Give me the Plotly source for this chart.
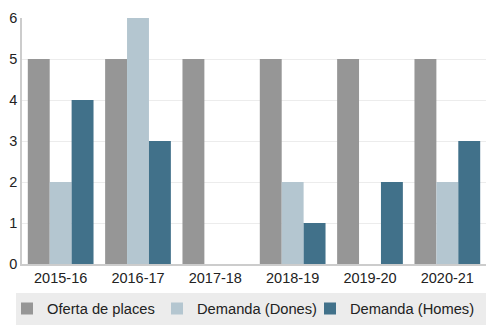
import plotly.graph_objects as go

categories = ["2015-16", "2016-17", "2017-18", "2018-19", "2019-20", "2020-21"]
oferta = [5, 5, 5, 5, 5, 5]
dones = [2, 6, 0, 2, 0, 2]
homes = [4, 3, 0, 1, 2, 3]

series = [
    ("Oferta de places", oferta, "#969696"),
    ("Demanda (Dones)", dones, "#b4c6d0"),
    ("Demanda (Homes)", homes, "#41718a"),
]

W, H = 494, 335
ml, mr, mt, mb = 22, 8, 18, 71
pw, ph = W - ml - mr, H - mt - mb

legend_ids = ["legend", "legend2", "legend3"]
legend_px = [7, 157, 310]

fig = go.Figure()
for (name, vals, color), lid in zip(series, legend_ids):
    fig.add_trace(go.Bar(x=categories, y=vals, name=name, marker_color=color,
                         marker_line_width=0, legend=lid))

fig.add_shape(type="rect", xref="paper", yref="paper",
              x0=(16 - ml) / pw, x1=1.0,
              y0=(H - mb - 325) / ph, y1=(H - mb - 293) / ph,
              fillcolor="#ececec", line_width=0, layer="below")

leg_y = (H - mb - 309) / ph
legends = {}
for lid, px in zip(legend_ids, legend_px):
    legends[lid] = dict(orientation="h", x=(px - ml) / pw, xanchor="left",
                        y=leg_y, yanchor="middle", bgcolor="rgba(0,0,0,0)",
                        font=dict(size=14.7), itemwidth=30)

fig.update_layout(
    width=W, height=H,
    margin=dict(l=ml, r=mr, t=mt, b=mb, autoexpand=False),
    barmode="group", bargap=0.15, bargroupgap=0,
    plot_bgcolor="white", paper_bgcolor="white",
    font=dict(family="Liberation Sans, Arial, sans-serif", size=14.5, color="#222222"),
    showlegend=True,
    xaxis=dict(showline=True, linecolor="#cccccc", linewidth=1.5, ticks="",
               automargin=False),
    yaxis=dict(range=[0, 6], dtick=1, showline=True, linecolor="#cccccc",
               linewidth=1.5, gridcolor="#ececec", zeroline=False,
               automargin=False),
    **legends,
)

fig.write_html("out.html")
